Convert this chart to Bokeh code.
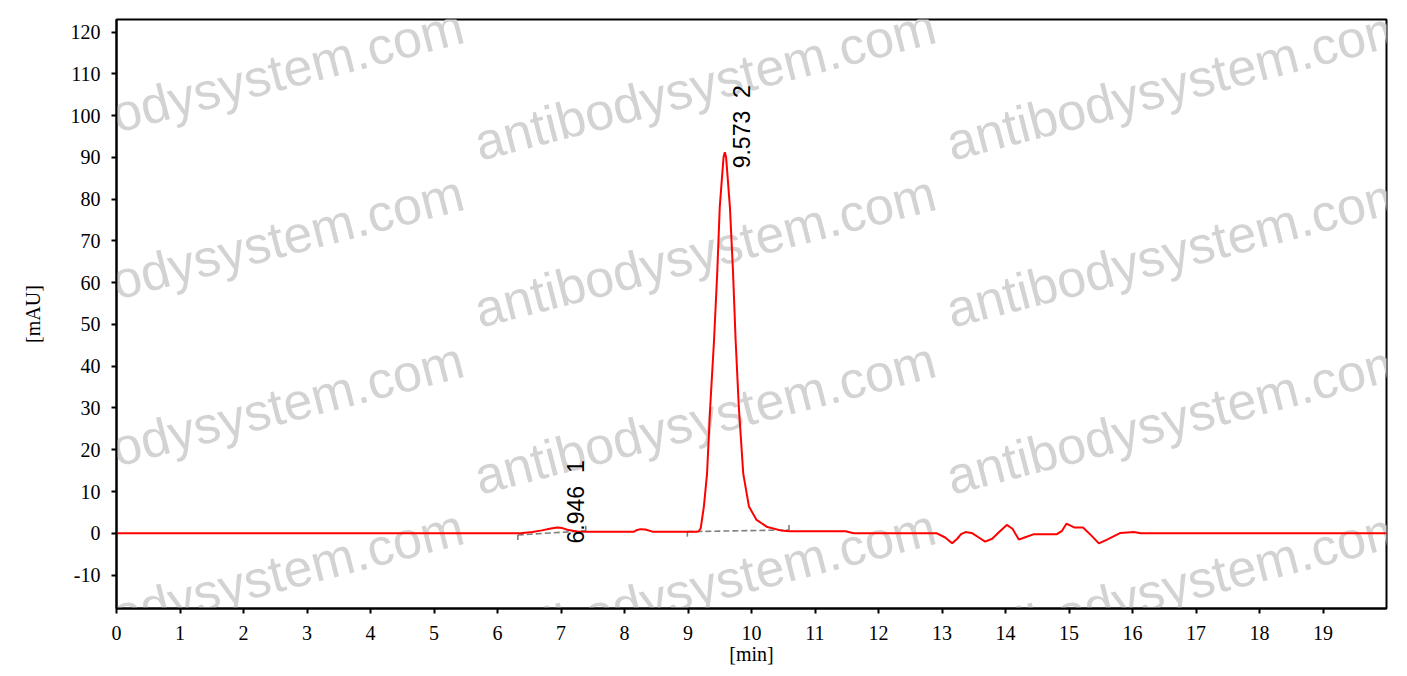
import math
from bokeh.plotting import figure
from bokeh.models import Range1d, FixedTicker, Label
from bokeh.core.properties import value
from bokeh.embed import file_html
from bokeh.resources import INLINE

# ---- data ----
time_min = [0.0, 6.36, 6.55, 6.70, 6.84, 6.94, 7.02, 7.10, 7.25, 7.39,
            8.15, 8.20, 8.25, 8.33, 8.44,
            9.15, 9.17, 9.20, 9.25, 9.30, 9.35, 9.41, 9.46, 9.50, 9.54, 9.56, 9.58,
            9.60, 9.62, 9.66, 9.71, 9.75, 9.80, 9.87, 9.96, 10.08, 10.25, 10.46, 10.60,
            11.48, 11.61, 12.92, 13.05, 13.16, 13.24, 13.30, 13.37, 13.48, 13.58, 13.68,
            13.79, 13.90, 14.02, 14.11, 14.21, 14.30, 14.45, 14.81, 14.89, 14.96, 15.08,
            15.22, 15.35, 15.47, 15.60, 15.81, 16.02, 16.13, 20.0]
signal_mau = [0.0, 0.0, 0.3, 0.7, 1.15, 1.4, 1.25, 0.85, 0.45, 0.4,
              0.4, 0.8, 1.0, 0.9, 0.4,
              0.4, 0.5, 1.2, 6.4, 14.3, 30.3, 46.2, 62.2, 78.1, 86.1, 90.0, 91.2,
              90.0, 86.1, 78.1, 62.2, 46.2, 30.3, 14.3, 6.4, 3.2, 1.5, 0.7, 0.5,
              0.5, 0.0, 0.0, -1.0, -2.4, -1.3, -0.2, 0.3, 0.0, -1.0, -2.0,
              -1.3, 0.3, 2.0, 1.1, -1.5, -1.0, -0.2, -0.2, 0.6, 2.3, 1.4,
              1.4, -0.5, -2.4, -1.5, 0.1, 0.3, 0.0, 0.0]

peak_rt = [6.946, 9.573]
peak_height = [1.4, 91.2]
peak_labels = ["6.946\u00a0\u00a01", "9.573\u00a0\u00a02"]

base_t0 = [6.32, 8.99]
base_y0 = [-0.4, 0.4]
base_t1 = [7.39, 10.59]
base_y1 = [0.6, 0.8]

x_ticks = list(range(0, 20))
y_ticks = list(range(-10, 121, 10))

WATERMARK = "antibodysystem.com"

# ---- figure ----
p = figure(width=1399, height=668, output_backend="svg", toolbar_location=None,
           x_range=Range1d(0, 20), y_range=Range1d(-18, 123),
           min_border_left=116, min_border_right=13, min_border_top=19, min_border_bottom=60)
p.frame_width = 1270
p.frame_height = 589
p.xgrid.visible = False
p.ygrid.visible = False
p.background_fill_color = "white"
p.border_fill_color = "white"
p.outline_line_color = "black"
p.outline_line_width = 2

# watermarks in canvas units (origin at the canvas' top-left corner)
for col_x in [3, 475, 947]:
    for row_y in [143, 310, 477, 644]:
        p.add_layout(Label(x=col_x, y=row_y,
                           x_units="canvas", y_units="canvas",
                           text=WATERMARK, angle=math.radians(14.5),
                           text_baseline="alphabetic", text_align="left",
                           text_font="Liberation Sans", text_font_size="52px",
                           text_color="#d3d3d3", level="annotation"))

# integration baselines
r1 = p.segment(x0=base_t0, y0=base_y0, x1=base_t1, y1=base_y1,
               line_color="#7f7f7f", line_width=1.6, line_dash="6 3")
r2 = p.segment(x0=base_t0, y0=base_y0, x1=base_t0, y1=[v - 1.2 for v in base_y0],
               line_color="#7f7f7f", line_width=1.6)
r3 = p.segment(x0=base_t1, y0=base_y1, x1=base_t1, y1=[v + 1.2 for v in base_y1],
               line_color="#7f7f7f", line_width=1.6)

# trace
r4 = p.line(time_min, signal_mau, line_color="#ff0000", line_width=2)

# peak labels
r5 = p.text(x=peak_rt, y=peak_height, text=peak_labels, angle=math.pi / 2,
            x_offset=18, y_offset=16, text_align="left", text_baseline="alphabetic",
            text_font=value("Liberation Sans"), text_font_size="23px", text_color="black")

for r in (r1, r2, r3, r4, r5):
    r.level = "overlay"

# axes
for ax in (p.xaxis[0], p.yaxis[0]):
    ax.level = "overlay"
    ax.axis_line_width = 2
    ax.axis_line_color = "black"
    ax.major_tick_line_width = 2
    ax.major_tick_out = 5
    ax.major_tick_in = 0
    ax.minor_tick_line_color = None
    ax.major_label_text_font = "Liberation Serif"
    ax.major_label_text_font_size = "20px"
    ax.major_label_text_color = "black"
    ax.axis_label_text_font = "Liberation Serif"
    ax.axis_label_text_font_size = "20px"
    ax.axis_label_text_font_style = "normal"
    ax.axis_label_text_color = "black"

p.xaxis.ticker = FixedTicker(ticks=x_ticks)
p.yaxis.ticker = FixedTicker(ticks=y_ticks)
p.yaxis.major_label_overrides = {t: str(t) for t in y_ticks}
p.xaxis.axis_label = "[min]"
p.yaxis.axis_label = "[mAU]"
p.xaxis.major_label_standoff = 12
p.yaxis.major_label_standoff = 11
p.xaxis.axis_label_standoff = 0
p.yaxis.axis_label_standoff = 24

open("out.html", "w").write(file_html(p, INLINE))
